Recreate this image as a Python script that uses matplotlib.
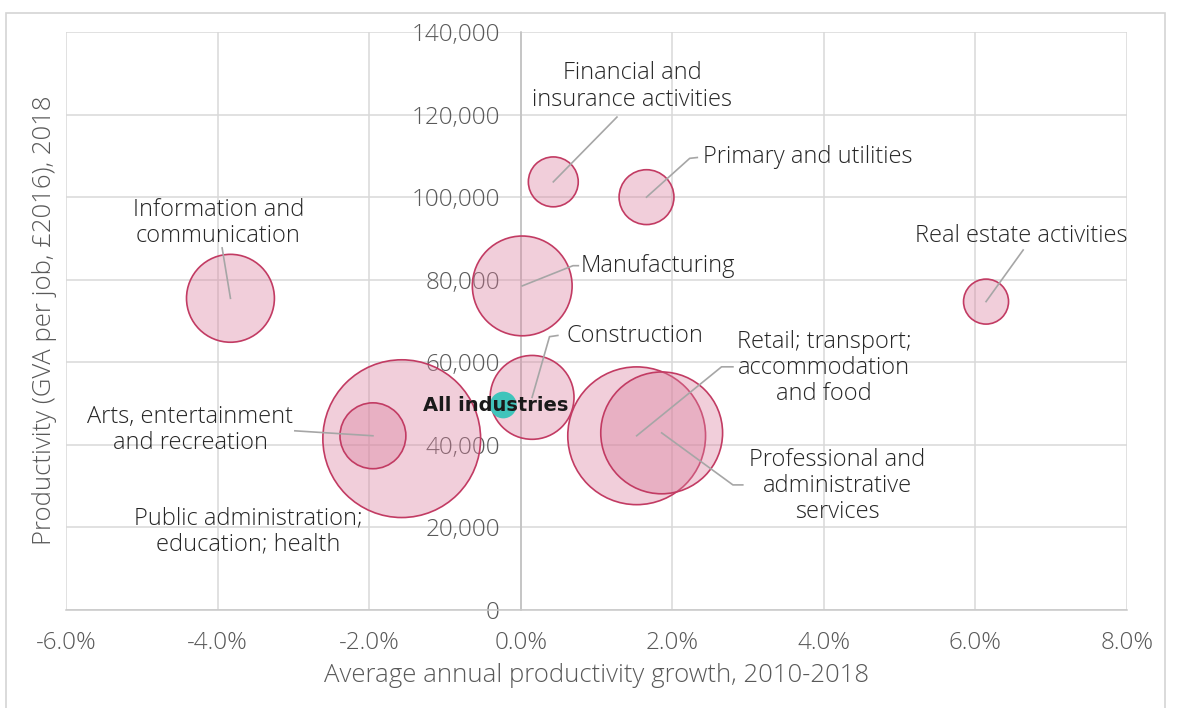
import matplotlib
matplotlib.use("Agg")
from matplotlib import pyplot as plt
from matplotlib.patches import Rectangle

plt.rcParams['font.family'] = ['Open Sans', 'DejaVu Sans']

industries = [
    "Public administration;\neducation; health",
    "Retail; transport;\naccommodation\nand food",
    "Professional and\nadministrative\nservices",
    "Manufacturing",
    "Information and\ncommunication",
    "Construction",
    "Arts, entertainment\nand recreation",
    "Primary and utilities",
    "Financial and\ninsurance activities",
    "Real estate activities",
]
growth = [-1.57, 1.53, 1.86, 0.02, -3.83, 0.15, -1.95, 1.66, 0.43, 6.14]  # % per year
productivity = [41500, 42200, 42900, 78500, 75500, 51500, 42200, 100000, 103700, 74700]
jobs = [8600, 6560, 5130, 3440, 2670, 2430, 1500, 1040, 860, 700]  # thousands

all_growth = -0.23
all_productivity = 49650

x_ticks = [-6, -4, -2, 0, 2, 4, 6, 8]
y_ticks = [0, 20000, 40000, 60000, 80000, 100000, 120000, 140000]

# label layout: (line end, optional elbow end, text pos, alignment)
label_layout = {
    "Public administration;\neducation; health": (None, None, (-3.6, 19100), 'center'),
    "Retail; transport;\naccommodation\nand food": ((2.65, 58900), (2.80, 58900), (4.0, 58600), 'center'),
    "Professional and\nadministrative\nservices": ((2.80, 30300), (2.93, 30300), (4.18, 30000), 'center'),
    "Manufacturing": ((0.69, 83400), (0.76, 83400), (0.79, 83300), 'left'),
    "Information and\ncommunication": ((-3.94, 87700), None, (-3.99, 93700), 'center'),
    "Construction": ((0.38, 66200), (0.49, 66500), (0.60, 66400), 'left'),
    "Arts, entertainment\nand recreation": ((-2.98, 43400), None, (-4.36, 43600), 'center'),
    "Primary and utilities": ((2.23, 109400), (2.33, 109600), (2.40, 109700), 'left'),
    "Financial and\ninsurance activities": ((1.27, 119400), None, (1.47, 126800), 'center'),
    "Real estate activities": ((6.63, 87200), None, (6.61, 90600), 'center'),
}

fig = plt.figure(figsize=(11.78, 7.08), dpi=100)
fig.patches.append(Rectangle((6 / 1178, -0.01), 1159 / 1178, 1 - 13 / 708 + 0.01,
                             transform=fig.transFigure, fill=False,
                             edgecolor='#d4d4d4', linewidth=1.2))
ax = fig.add_axes([66 / 1178, 1 - 610 / 708, 1061 / 1178, 578 / 708])

ax.set_xlim(-6, 8)
ax.set_ylim(0, 140000)
ax.set_xticks(x_ticks)
ax.set_yticks(y_ticks)
ax.set_xticklabels([f"{v:.1f}%" for v in x_ticks])
ax.set_yticklabels([f"{v:,}" for v in y_ticks])
ax.grid(True, color='#d9d9d9', linewidth=1.1, zorder=0)
ax.set_axisbelow(True)

for side in ['top', 'right']:
    ax.spines[side].set_visible(False)
ax.spines['left'].set_position(('data', 0))
ax.spines['left'].set_color('#bfbfbf')
ax.spines['left'].set_linewidth(1.1)
ax.spines['bottom'].set_color('#c8c8c8')
ax.spines['bottom'].set_linewidth(1.1)
ax.tick_params(axis='y', length=0, pad=15, labelsize=17.5, labelcolor='#595959')
ax.tick_params(axis='x', length=0, pad=15, labelsize=17.5, labelcolor='#595959')
for lab in ax.get_xticklabels() + ax.get_yticklabels():
    lab.set_fontweight(300)

ax.set_xlabel("Average annual productivity growth, 2010-2018", fontsize=18.5,
              color='#595959', fontweight=300, labelpad=6)
fig.text(45 / 1178, 1 - 320 / 708, "Productivity (GVA per job, £2016), 2018",
         rotation=90, ha='center', va='center', fontsize=18.5, color='#595959',
         fontweight=300)

sizes = [j * 1.5 for j in jobs]
ax.scatter(growth, productivity, s=sizes, facecolors=(0.86, 0.50, 0.62, 0.38),
           edgecolors='#c23b63', linewidths=1.2, zorder=3)

ax.scatter([all_growth], [all_productivity], s=370, color='#40c4bb', zorder=4,
           edgecolors='none')
ax.text(-1.29, all_productivity, "All industries", fontsize=14, fontweight='bold',
        color='#1a1a1a', family='DejaVu Sans', va='center', ha='left', zorder=6)

for name, gx, py in zip(industries, growth, productivity):
    line_end, elbow, text_pos, align = label_layout[name]
    if line_end is not None:
        xs = [gx, line_end[0]]
        ys = [py, line_end[1]]
        if elbow is not None:
            xs.append(elbow[0])
            ys.append(elbow[1])
        ax.plot(xs, ys, color='#a6a6a6', linewidth=1.2, zorder=5)
    ax.text(text_pos[0], text_pos[1], name, ha=align, va='center', fontsize=17,
            fontweight=300, color='#262626', linespacing=1.12, zorder=6)

fig.savefig("out.png", dpi=100)
